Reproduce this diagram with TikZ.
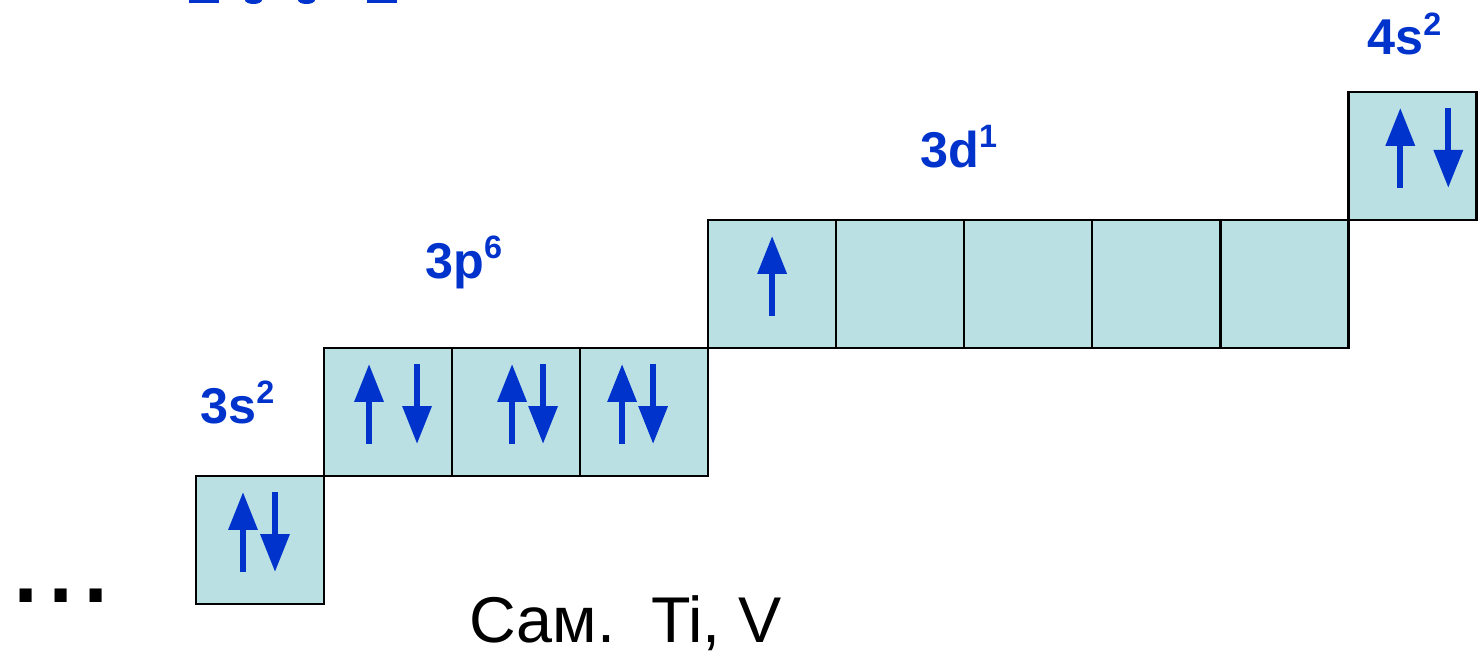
\documentclass[tikz,border=0pt]{standalone}
\usepackage{fontspec}
\setmainfont{Liberation Sans}
\usetikzlibrary{arrows.meta,positioning}

\definecolor{orbfill}{HTML}{BAE0E3}
\definecolor{spinblue}{HTML}{0033CC}
\newcommand{\upidx}[1]{\raisebox{14pt}{\fontsize{23}{24}\selectfont #1}}

\begin{document}
\begin{tikzpicture}[x=0.025cm, y=-0.025cm,
  orb/.style={draw, line width=1.8pt, fill=orbfill, minimum size=3.2cm,
              inner sep=0pt, outer sep=0pt},
  spin/.style={spinblue, line width=4.3pt,
               -{Triangle[width=20pt, length=27pt]}},
  lbl/.style={font=\fontsize{35.8}{40}\selectfont\bfseries, text=spinblue,
              anchor=base west, inner sep=0pt},
]
  \useasboundingbox (0,0) rectangle (1479,656);

  % cut-off line at the top edge
  \fill[spinblue] (189,0) rectangle (219,3);
  \fill[spinblue] (245,0) arc (180:0:8.5 and 4) -- cycle;
  \fill[spinblue] (298,0) arc (180:0:8.5 and 4) -- cycle;
  \fill[spinblue] (367,0) rectangle (397,3);

  % orbital boxes
  \node[orb] (s3) at (260,540) {};
  \node[orb, anchor=south west] (p1) at (s3.north east) {};
  \node[orb, right=0pt of p1] (p2) {};
  \node[orb, right=0pt of p2] (p3) {};
  \node[orb, anchor=south west] (d1) at (p3.north east) {};
  \node[orb, right=0pt of d1] (d2) {};
  \node[orb, right=0pt of d2] (d3) {};
  \node[orb, right=0pt of d3] (d4) {};
  \node[orb, right=0pt of d4] (d5) {};
  \node[orb, anchor=south west] (s4) at (d5.north east) {};

  % electrons
  \draw[spin] (s3.center) ++(-17,32) -- ++(0,-80);
  \draw[spin] (s3.center) ++(15,-48) -- ++(0,80);
  \draw[spin] (p1.center) ++(-19,32) -- ++(0,-80);
  \draw[spin] (p1.center) ++(29,-48) -- ++(0,80);
  \draw[spin] (p2.center) ++(-4,32) -- ++(0,-80);
  \draw[spin] (p2.center) ++(27,-48) -- ++(0,80);
  \draw[spin] (p3.center) ++(-22,32) -- ++(0,-80);
  \draw[spin] (p3.center) ++(9,-48) -- ++(0,80);
  \draw[spin] (d1.center) ++(0,32) -- ++(0,-80);
  \draw[spin] (s4.center) ++(-12,32) -- ++(0,-80);
  \draw[spin] (s4.center) ++(36,-48) -- ++(0,80);

  % sublevel labels
  \node[lbl] (l3s) at (200,423) {3s\upidx{2}};
  \node[lbl] (l3p) at (425,278) {3p\upidx{6}};
  \node[lbl] (l3d) at (920,167) {3d\upidx{1}};
  \node[lbl] (l4s) at (1367,55) {4s\upidx{2}};

  \node[font=\fontsize{90}{92}\selectfont, anchor=base west, inner sep=0pt]
    (dots) at (8,602) {...};
  \node[font=\fontsize{46}{50}\selectfont, anchor=base west, inner sep=0pt]
    (task) at (469,642) {Сам.\ \ Ti, V};
\end{tikzpicture}
\end{document}
